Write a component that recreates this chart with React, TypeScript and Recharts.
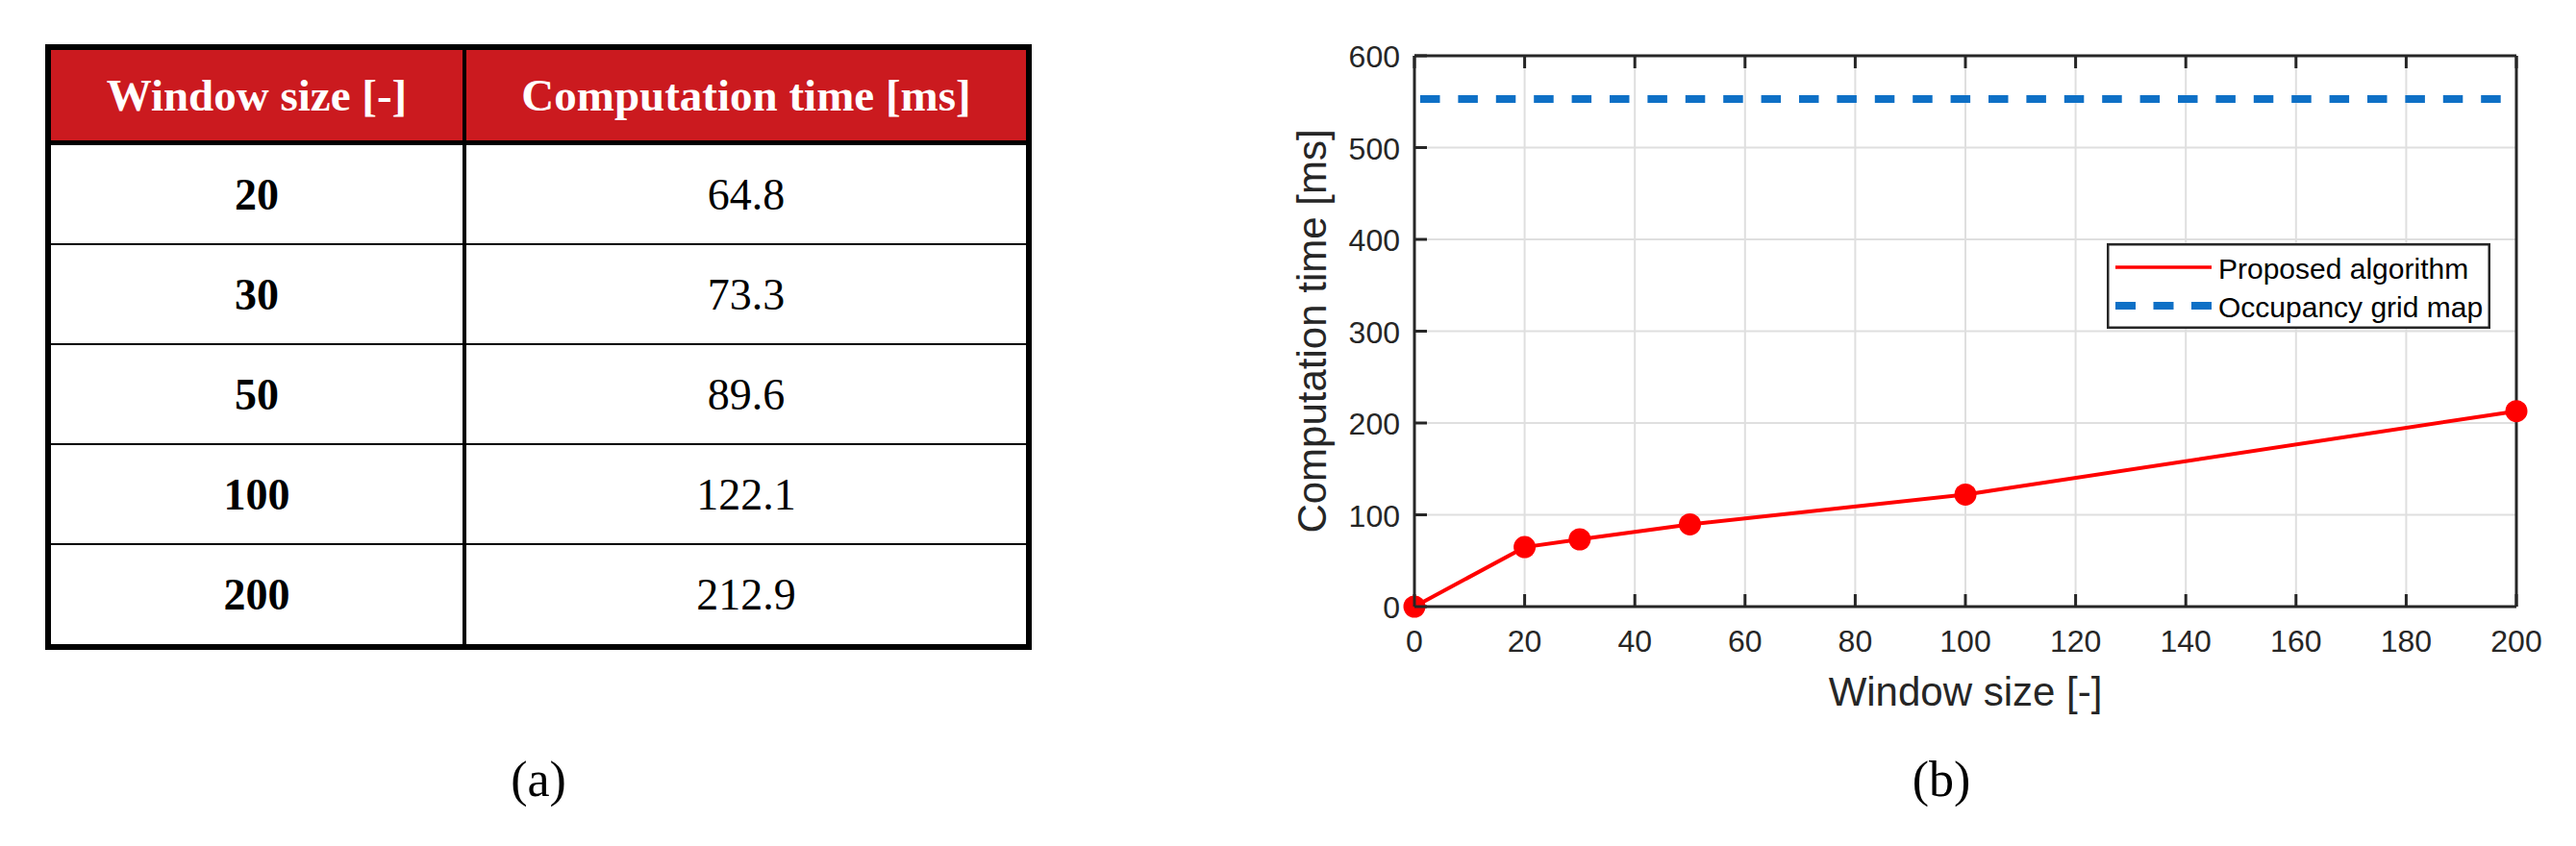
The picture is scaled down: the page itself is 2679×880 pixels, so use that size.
import React from 'react';
import { LineChart, Line, XAxis, YAxis, CartesianGrid, Label } from 'recharts';

// table (a)
const tableWindowSizes = [20, 30, 50, 100, 200];
const tableTimes = [64.8, 73.3, 89.6, 122.1, 212.9];

// plot (b)
const lineWindowSizes = [0, 20, 30, 50, 100, 200];
const proposedTimes = [0, 64.8, 73.3, 89.6, 122.1, 212.9];
const occupancyGridTime = 553;

const xTicks = [0, 20, 40, 60, 80, 100, 120, 140, 160, 180, 200];
const yTicks = [0, 100, 200, 300, 400, 500, 600];

const chartData = lineWindowSizes.map((w, i) => ({
  w,
  proposed: proposedTimes[i],
  occupancy: occupancyGridTime,
}));

const AXIS = '#262626';
const RED = '#FF0000';
const BLUE = '#0E70C6';
const HEADER_RED = '#CB1A1F';
const SANS = '"Liberation Sans", Arial, Helvetica, sans-serif';
const SERIF = '"Liberation Serif", "Times New Roman", Times, serif';

const BottomTick = ({ x, y, payload }: any) => (
  <g>
    <line x1={x} x2={x} y1={y} y2={y - 13} stroke={AXIS} strokeWidth={3} />
    <text x={x} y={y + 47} textAnchor="middle" fontFamily={SANS} fontSize={32} fill={AXIS}>
      {payload.value}
    </text>
  </g>
);

const LeftTick = ({ x, y, payload }: any) => (
  <g>
    <line x1={x} x2={x + 13} y1={y} y2={y} stroke={AXIS} strokeWidth={3} />
    <text x={x - 15} y={y + 12} textAnchor="end" fontFamily={SANS} fontSize={32} fill={AXIS}>
      {payload.value}
    </text>
  </g>
);

const TopTick = ({ x, y }: any) => (
  <line x1={x} x2={x} y1={y} y2={y + 13} stroke={AXIS} strokeWidth={3} />
);

const RightTick = ({ x, y }: any) => (
  <line x1={x} x2={x - 13} y1={y} y2={y} stroke={AXIS} strokeWidth={3} />
);

const XTitle = ({ viewBox }: any) => (
  <text
    x={viewBox.x + viewBox.width / 2}
    y={viewBox.y + 103}
    textAnchor="middle"
    fontFamily={SANS}
    fontSize={42}
    fill={AXIS}
  >
    Window size [-]
  </text>
);

const YTitle = ({ viewBox }: any) => {
  const cx = viewBox.x + viewBox.width - 92;
  const cy = viewBox.y + viewBox.height / 2;
  return (
    <text
      x={cx}
      y={cy}
      transform={`rotate(-90 ${cx} ${cy})`}
      textAnchor="middle"
      fontFamily={SANS}
      fontSize={42}
      fill={AXIS}
    >
      Computation time [ms]
    </text>
  );
};

const ResultsTable = () => {
  const cell = (bold: boolean, color: string, size: number): React.CSSProperties => ({
    display: 'flex',
    alignItems: 'center',
    justifyContent: 'center',
    fontFamily: SERIF,
    fontWeight: bold ? 700 : 400,
    fontSize: size,
    color,
    whiteSpace: 'nowrap',
  });
  return (
    <div
      style={{
        position: 'absolute',
        left: 47,
        top: 46,
        width: 1026,
        height: 630,
        border: '6px solid #000',
        boxSizing: 'border-box',
        display: 'flex',
        flexDirection: 'column',
        background: '#fff',
      }}
    >
      <div
        style={{
          height: 99,
          borderBottom: '5px solid #000',
          boxSizing: 'border-box',
          background: HEADER_RED,
          display: 'flex',
        }}
      >
        <div style={{ ...cell(true, '#fff', 47), width: 432, borderRight: '4px solid #000', boxSizing: 'border-box' }}>
          Window size [-]
        </div>
        <div style={{ ...cell(true, '#fff', 47), flex: 1 }}>Computation time [ms]</div>
      </div>
      {tableWindowSizes.map((w, i) => {
        const last = i === tableWindowSizes.length - 1;
        return (
          <div
            key={w}
            style={{
              height: last ? undefined : 104,
              flex: last ? 1 : undefined,
              borderBottom: last ? 'none' : '2px solid #000',
              boxSizing: 'border-box',
              display: 'flex',
            }}
          >
            <div style={{ ...cell(true, '#000', 46), width: 432, borderRight: '4px solid #000', boxSizing: 'border-box' }}>
              {w}
            </div>
            <div style={{ ...cell(false, '#000', 46), flex: 1 }}>{tableTimes[i].toFixed(1)}</div>
          </div>
        );
      })}
    </div>
  );
};

const PlotLegend = () => (
  <svg style={{ position: 'absolute', left: 2191, top: 253 }} width={399} height={89}>
    <rect x={1.25} y={1.25} width={396.5} height={86.5} fill="#fff" stroke={AXIS} strokeWidth={2.5} />
    <line x1={9} x2={109} y1={25} y2={25} stroke={RED} strokeWidth={3.5} />
    <text x={116} y={37} fontFamily={SANS} fontSize={30} fill="#000">
      Proposed algorithm
    </text>
    <line x1={9} x2={109} y1={65} y2={65} stroke={BLUE} strokeWidth={8} strokeDasharray="21 18.5" />
    <text x={116} y={77} fontFamily={SANS} fontSize={30} fill="#000">
      Occupancy grid map
    </text>
  </svg>
);

// plot area: x 1471..2617, y 58..631 (page coords)
const TimeChart = () => (
  <div style={{ position: 'absolute', left: 1300, top: 0 }}>
    <LineChart
      width={1379}
      height={880}
      data={chartData}
      margin={{ top: 48, right: 52, bottom: 219, left: 111 }}
    >
      <CartesianGrid stroke="#DFDFDF" strokeWidth={2} />
      <XAxis
        dataKey="w"
        type="number"
        domain={[0, 200]}
        ticks={xTicks}
        interval={0}
        height={30}
        tickSize={0}
        tickMargin={0}
        tickLine={false}
        tick={<BottomTick />}
        axisLine={{ stroke: AXIS, strokeWidth: 3 }}
      >
        <Label content={<XTitle />} />
      </XAxis>
      <XAxis
        xAxisId="top"
        orientation="top"
        dataKey="w"
        type="number"
        domain={[0, 200]}
        ticks={xTicks}
        interval={0}
        height={10}
        tickSize={0}
        tickMargin={0}
        tickLine={false}
        tick={<TopTick />}
        axisLine={{ stroke: AXIS, strokeWidth: 3 }}
      />
      <YAxis
        type="number"
        domain={[0, 600]}
        ticks={yTicks}
        interval={0}
        width={60}
        tickSize={0}
        tickMargin={0}
        tickLine={false}
        tick={<LeftTick />}
        axisLine={{ stroke: AXIS, strokeWidth: 3 }}
      >
        <Label content={<YTitle />} />
      </YAxis>
      <YAxis
        yAxisId="right"
        orientation="right"
        type="number"
        domain={[0, 600]}
        ticks={yTicks}
        interval={0}
        width={10}
        tickSize={0}
        tickMargin={0}
        tickLine={false}
        tick={<RightTick />}
        axisLine={{ stroke: AXIS, strokeWidth: 3 }}
      />
      <Line
        dataKey="occupancy"
        type="linear"
        stroke={BLUE}
        strokeWidth={8}
        strokeDasharray="20.5 18.9"
        strokeDashoffset={33.4}
        dot={false}
        activeDot={false}
        isAnimationActive={false}
      />
      <Line
        dataKey="proposed"
        type="linear"
        stroke={RED}
        strokeWidth={4}
        dot={{ r: 11.5, fill: RED, stroke: RED, strokeWidth: 0 }}
        activeDot={false}
        isAnimationActive={false}
      />
    </LineChart>
  </div>
);

export default function App() {
  return (
    <div
      style={{
        position: 'absolute',
        left: 0,
        top: 0,
        width: 2679,
        height: 880,
        background: '#fff',
        overflow: 'hidden',
      }}
    >
      <ResultsTable />
      <TimeChart />
      <PlotLegend />
      <svg style={{ position: 'absolute', left: 0, top: 0, pointerEvents: 'none' }} width={2679} height={880}>
        <text x={560} y={828} textAnchor="middle" fontFamily={SERIF} fontSize={52} fill="#000">
          (a)
        </text>
        <text x={2019} y={828} textAnchor="middle" fontFamily={SERIF} fontSize={52} fill="#000">
          (b)
        </text>
      </svg>
    </div>
  );
}
